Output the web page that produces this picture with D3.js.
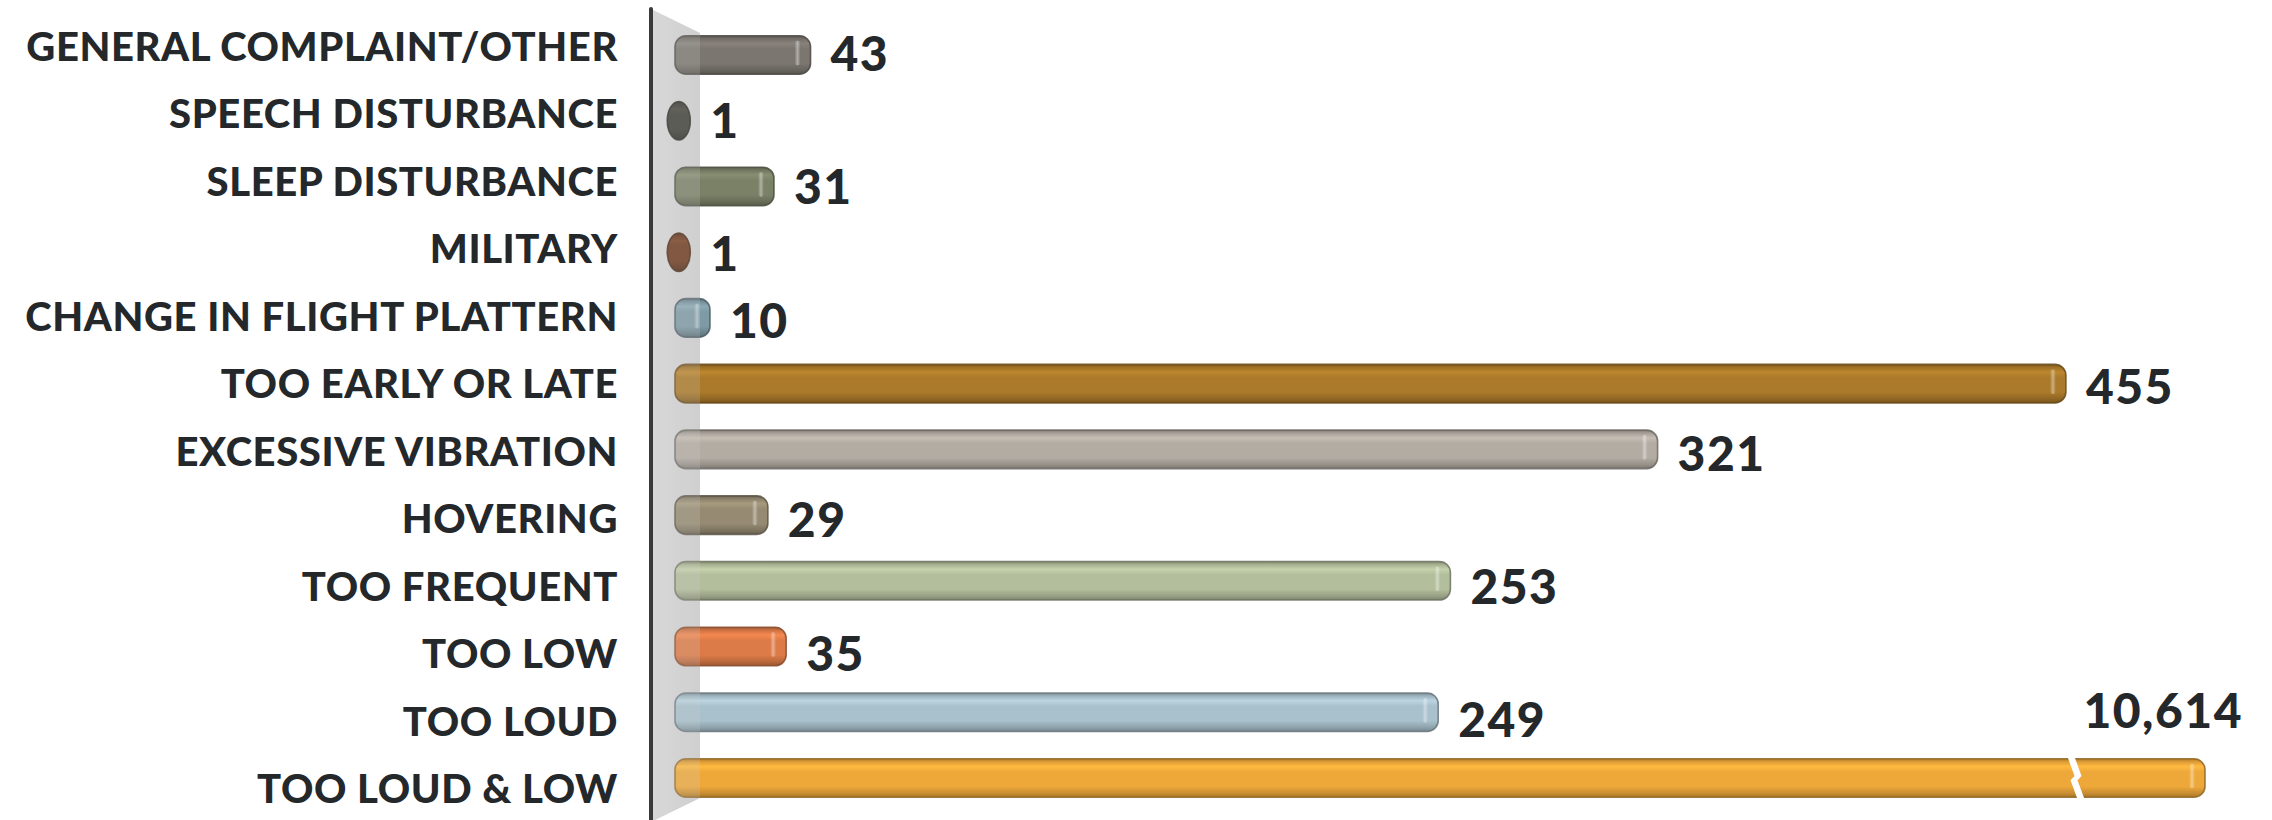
<!DOCTYPE html>
<html>
<head>
<meta charset="utf-8">
<script src="https://cdn.jsdelivr.net/npm/d3@7"></script>
<style>
html,body{margin:0;padding:0;background:#ffffff;}
svg{display:block;}
</style>
</head>
<body>
<svg id="chart" width="2272" height="820"></svg>
<script>
// ---- data ----
const categories = [
  "GENERAL COMPLAINT/OTHER",
  "SPEECH DISTURBANCE",
  "SLEEP DISTURBANCE",
  "MILITARY",
  "CHANGE IN FLIGHT PLATTERN",
  "TOO EARLY OR LATE",
  "EXCESSIVE VIBRATION",
  "HOVERING",
  "TOO FREQUENT",
  "TOO LOW",
  "TOO LOUD",
  "TOO LOUD & LOW"
];
const values = [43, 1, 31, 1, 10, 455, 321, 29, 253, 35, 249, 10614];
const colors = [
  "#7b766f", "#3f3f37", "#7a8167", "#6e3a1e", "#7e9aa5", "#ab7a2a",
  "#b3aca3", "#968b72", "#b3be9c", "#dd7b48", "#a9c1cc", "#eea83a"
];
const breakValue = 458;   // axis break on the last (very long) bar

// ---- layout ----
const W = 2272, H = 820;
const svg = d3.select("#chart");
const defs = svg.append("defs");

// piecewise (broken) value scale
const x = d3.scaleLinear()
  .domain([0, breakValue, d3.max(values)])
  .range([679.5, 679.5 + breakValue * 3.047, 2205]);

const y = d3.scaleBand()
  .domain(categories)
  .range([22.15, 810.85])
  .paddingInner(0.414)
  .paddingOuter(0.207);

const yLabel = d3.scalePoint().domain(categories).range([47, 789]);
const yValue = d3.scalePoint().domain(categories).range([54, 787]);

const fmt = d3.format(",");
const textColor = "#24282b";

// ---- wall (back panel) ----
const axisX = 651;
const wallPts = [[axisX, 9], [700, 33], [700, 798], [axisX, 822]];
const wallGrad = defs.append("linearGradient").attr("id", "wallGrad")
  .attr("x1", 0).attr("x2", 1).attr("y1", 0).attr("y2", 0);
wallGrad.append("stop").attr("offset", 0).attr("stop-color", "#dadada");
wallGrad.append("stop").attr("offset", 1).attr("stop-color", "#cfcfcf");
svg.append("polygon")
  .attr("points", wallPts.map(p => p.join(",")).join(" "))
  .attr("fill", "url(#wallGrad)");

// ---- bars ----
const barsG = svg.append("g");
const minW = 23;
const hlGrad = defs.append("linearGradient").attr("id", "hl")
  .attr("x1", 0).attr("x2", 1).attr("y1", 0).attr("y2", 0);
hlGrad.append("stop").attr("offset", 0).attr("stop-color", "#fff").attr("stop-opacity", 0);
hlGrad.append("stop").attr("offset", 0.5).attr("stop-color", "#fff").attr("stop-opacity", 0.4);
hlGrad.append("stop").attr("offset", 1).attr("stop-color", "#fff").attr("stop-opacity", 0);

function barExtent(v) {
  let x0 = x(0) - 4.5;
  let end = x(v);
  let w = end - x0;
  if (w < minW) { x0 = x0 - (minW - w) / 2; w = minW; end = x0 + w; }
  return [x0, end, w];
}

categories.forEach((c, i) => {
  const v = values[i];
  const base = d3.color(colors[i]);
  const g = defs.append("linearGradient").attr("id", "bg" + i)
    .attr("x1", 0).attr("x2", 0).attr("y1", 0).attr("y2", 1);
  [[0, base.darker(0.9)], [0.08, base.darker(0.2)], [0.2, base.brighter(0.28)],
   [0.34, base], [0.72, base], [0.9, base.darker(0.5)], [1, base.darker(1.0)]]
    .forEach(([o, col]) => g.append("stop").attr("offset", o).attr("stop-color", col.formatHex()));

  const [x0, end, w] = barExtent(v);
  const top = y(c), h = y.bandwidth();
  const small = w < 26;
  barsG.append("rect")
    .attr("x", x0).attr("y", top)
    .attr("width", w).attr("height", h)
    .attr("rx", small ? w / 2 : Math.min(11, w / 2))
    .attr("ry", small ? h / 2 : 11)
    .attr("fill", "url(#bg" + i + ")")
    .attr("stroke", base.darker(1.4).formatHex())
    .attr("stroke-opacity", 0.85)
    .attr("stroke-width", 1.6);
  // specular highlight near the right end
  if (!small) {
    barsG.append("rect")
      .attr("x", end - 16).attr("y", top + 5)
      .attr("width", 6).attr("height", h - 14)
      .attr("rx", 3)
      .attr("fill", "url(#hl)");
  }
  // axis break
  if (v > breakValue) {
    const xb = x(breakValue) - 4;
    const gw = 3.5;
    const cl = [[xb, top - 2], [xb + 7, top + 0.45 * h], [xb + 3, top + 0.56 * h], [xb + 10, top + h + 2]];
    const poly = cl.map(p => [p[0] - gw, p[1]]).concat(cl.slice().reverse().map(p => [p[0] + gw, p[1]]));
    barsG.append("polygon")
      .attr("points", poly.map(p => p.join(",")).join(" "))
      .attr("fill", "#ffffff");
  }
});

// translucent wall overlay on the bar starts
svg.append("polygon")
  .attr("points", wallPts.map(p => p.join(",")).join(" "))
  .attr("fill", "#d4d4d4").attr("opacity", 0.2);

// ---- axis line ----
svg.append("line")
  .attr("x1", axisX).attr("x2", axisX)
  .attr("y1", 9).attr("y2", H + 5)
  .attr("stroke", "#3a3a3a").attr("stroke-width", 4)
  .attr("stroke-linecap", "round");

// ---- category labels ----
svg.append("g").selectAll("text").data(categories).join("text")
  .attr("x", 618)
  .attr("y", d => yLabel(d) + 14)
  .attr("text-anchor", "end")
  .attr("font-family", "Lato, 'Open Sans', sans-serif")
  .attr("font-weight", 900)
  .attr("font-size", 40)
  .attr("letter-spacing", 0.6)
  .attr("fill", textColor)
  .text(d => d);

// ---- value labels ----
svg.append("g").selectAll("text").data(categories).join("text")
  .attr("x", (d, i) => values[i] > breakValue ? 2243 : barExtent(values[i])[1] + 20)
  .attr("y", (d, i) => values[i] > breakValue
      ? yValue(categories[i - 1]) - 9 + 17
      : yValue(d) + 17)
  .attr("text-anchor", (d, i) => values[i] > breakValue ? "end" : "start")
  .attr("font-family", "Lato, 'Open Sans', sans-serif")
  .attr("font-weight", 900)
  .attr("font-size", 48)
  .attr("letter-spacing", 1.5)
  .attr("fill", textColor)
  .text((d, i) => fmt(values[i]));
</script>
</body>
</html>
